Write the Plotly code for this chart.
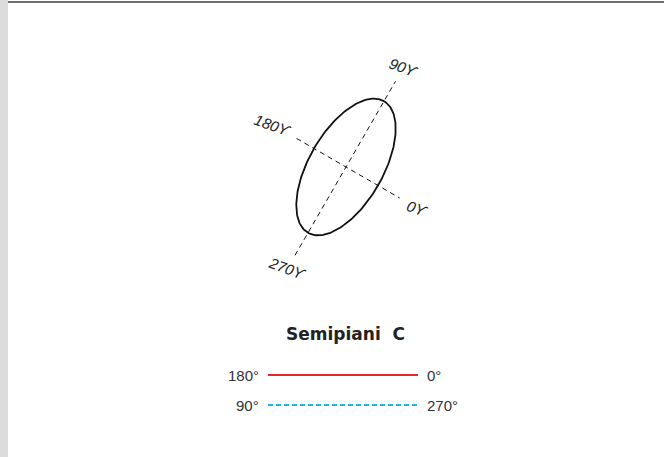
import numpy as np
import plotly.graph_objects as go

# ---- data ----
axis_labels = ["0ϒ", "90ϒ", "180ϒ", "270ϒ"]
axis_angles = [-30, 60, 150, 240]          # degrees, direction of each half-axis
axis_lengths = [62, 99, 57, 102]           # dashed half-axis lengths
label_dist = [82, 115, 84, 117]            # label distance from centre
ellipse_a = 76                             # semi-major
ellipse_b = 37                             # semi-minor
ellipse_rot = 60                           # rotation of major axis (deg)

legend_title = "Semipiani  C"
legend_left = ["180°", "90°"]
legend_right = ["0°", "270°"]
legend_colors = ["#e8262d", "#22b2ea"]
legend_dash = ["solid", "5px,3px"]

W, H = 664, 457
CX, CY = 346, 167  # centre of diagram in pixels

fig = go.Figure()

# ellipse
t = np.linspace(0, 2 * np.pi, 241)
th = np.radians(ellipse_rot)
ex = ellipse_a * np.cos(t) * np.cos(th) - ellipse_b * np.sin(t) * np.sin(th)
ey = ellipse_a * np.cos(t) * np.sin(th) + ellipse_b * np.sin(t) * np.cos(th)
fig.add_trace(go.Scatter(x=ex, y=ey, mode="lines",
                         line=dict(color="#111111", width=1.8),
                         hoverinfo="skip", showlegend=False))

# dashed axes (0-180 and 90-270)
for i, j in [(2, 0), (3, 1)]:
    a1, a2 = np.radians(axis_angles[i]), np.radians(axis_angles[j])
    xs = [axis_lengths[i] * np.cos(a1), axis_lengths[j] * np.cos(a2)]
    ys = [axis_lengths[i] * np.sin(a1), axis_lengths[j] * np.sin(a2)]
    fig.add_trace(go.Scatter(x=xs, y=ys, mode="lines",
                             line=dict(color="#111111", width=1, dash="5px,4px"),
                             hoverinfo="skip", showlegend=False))

annotations = []
for lab, ang, d in zip(axis_labels, axis_angles, label_dist):
    a = np.radians(ang)
    annotations.append(dict(x=d * np.cos(a), y=d * np.sin(a), text=lab,
                            showarrow=False, textangle=20,
                            font=dict(family="Liberation Sans", size=15,
                                      color="#222222", style="italic"),
                            xanchor="center", yanchor="middle"))

# legend title
annotations.append(dict(x=-0.5, y=-166.5, text="<b>" + legend_title + "</b>",
                        showarrow=False,
                        font=dict(family="DejaVu Sans", size=17, color="#222222"),
                        xanchor="center", yanchor="middle"))

# legend rows
row_y = [-208, -238]
for k in range(2):
    fig.add_trace(go.Scatter(x=[-78, 72], y=[row_y[k], row_y[k]], mode="lines",
                             line=dict(color=legend_colors[k], width=2,
                                       dash=legend_dash[k]),
                             hoverinfo="skip", showlegend=False))
    annotations.append(dict(x=-85, y=row_y[k], text=legend_left[k], showarrow=False,
                            xanchor="right", yanchor="middle",
                            font=dict(family="Liberation Sans", size=15,
                                      color="#333333")))
    annotations.append(dict(x=79, y=row_y[k], text=legend_right[k], showarrow=False,
                            xanchor="left", yanchor="middle",
                            font=dict(family="Liberation Sans", size=15,
                                      color="#333333")))

shapes = [
    dict(type="rect", xref="paper", yref="paper", x0=0, x1=8 / W, y0=0, y1=1,
         fillcolor="#dcdcdc", line=dict(width=0), layer="below"),
    dict(type="rect", xref="paper", yref="paper", x0=8 / W, x1=1,
         y0=1 - 3 / H, y1=1 - 1 / H, fillcolor="#6f6f6f", line=dict(width=0)),
]

fig.update_layout(
    width=W, height=H,
    margin=dict(l=0, r=0, t=0, b=0),
    paper_bgcolor="white", plot_bgcolor="white",
    xaxis=dict(range=[-CX, W - CX], visible=False, fixedrange=True),
    yaxis=dict(range=[CY - H, CY], visible=False, fixedrange=True),
    annotations=annotations, shapes=shapes,
    showlegend=False,
)

fig.write_html("out.html", config={"displayModeBar": False},
               post_script="document.body.style.margin='0';")
